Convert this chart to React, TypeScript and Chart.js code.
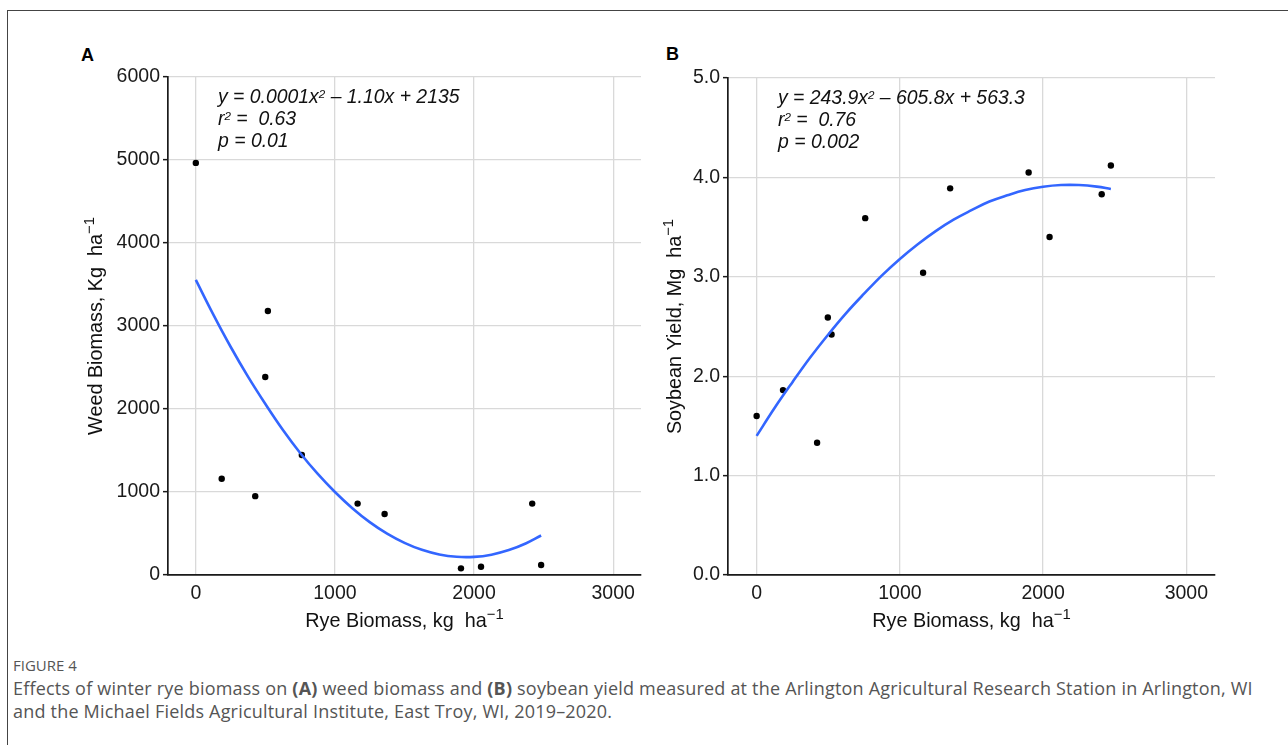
import React, { useEffect, useRef } from "react";
import { Chart, registerables } from "chart.js";

Chart.register(...registerables);

// ---------- data ----------
const xTickValues = [0, 1000, 2000, 3000];
const yTicksA = [0, 1000, 2000, 3000, 4000, 5000, 6000];
const yTicksB = [0, 1, 2, 3, 4, 5];

// Panel A: weed biomass vs rye biomass
const ryeA = [0, 186, 427, 499, 518, 762, 1163, 1357, 1906, 2050, 2418, 2482];
const weedBiomass = [4965, 1160, 950, 2385, 3180, 1445, 860, 735, 80, 100, 860, 120];
// fitted curve
const fitAx = [0, 125, 250, 375, 500, 625, 750, 875, 1000, 1125, 1250, 1375, 1500, 1625, 1750, 1875, 2000, 2125, 2250, 2375, 2482];
const fitAy = [3555, 3140, 2750, 2390, 2060, 1750, 1470, 1220, 1000, 805, 637, 498, 387, 303, 247, 219, 218, 245, 300, 383, 476];

// Panel B: soybean yield vs rye biomass
const ryeB = [0, 184, 422, 497, 523, 758, 1162, 1351, 1899, 2045, 2409, 2473];
const soyYield = [1.6, 1.86, 1.33, 2.59, 2.42, 3.59, 3.04, 3.89, 4.05, 3.4, 3.83, 4.12];
const fitBx = [0, 125, 250, 375, 500, 625, 750, 875, 1000, 1125, 1250, 1375, 1500, 1625, 1750, 1875, 2000, 2125, 2250, 2375, 2473];
const fitBy = [1.4, 1.68, 1.94, 2.19, 2.42, 2.635, 2.83, 3.015, 3.18, 3.328, 3.46, 3.575, 3.67, 3.757, 3.82, 3.873, 3.906, 3.923, 3.923, 3.907, 3.883];

// ---------- styles ----------
const FONT = '"Liberation Sans", Arial, Helvetica, sans-serif';
const GRID = "#d9d9d9";
const AXIS = "#1a1a1a";
const TICK = "#1a1a1a";
const BLUE = "#3366FF";

type Seg = { t: string; sup?: boolean };
type RichStyle = { size: number; italic?: boolean; supScale: number; supRaise: number; color: string };

const eqStyle: RichStyle = { size: 19.4, italic: true, supScale: 0.6, supRaise: 0.24, color: "#111" };
const titleStyle: RichStyle = { size: 19.8, italic: false, supScale: 0.75, supRaise: 0.4, color: "#111" };

function fontOf(size: number, italic?: boolean) {
  return `${italic ? "italic " : ""}${size}px ${FONT}`;
}

function richWidth(ctx: CanvasRenderingContext2D, segs: Seg[], st: RichStyle) {
  let w = 0;
  for (const s of segs) {
    ctx.font = fontOf(s.sup ? st.size * st.supScale : st.size, st.italic);
    w += ctx.measureText(s.t).width;
  }
  return w;
}

function drawRich(
  ctx: CanvasRenderingContext2D,
  segs: Seg[],
  x: number,
  y: number,
  st: RichStyle,
  align: "left" | "center"
) {
  let cx = align === "center" ? x - richWidth(ctx, segs, st) / 2 : x;
  ctx.fillStyle = st.color;
  ctx.textBaseline = "alphabetic";
  ctx.textAlign = "left";
  for (const s of segs) {
    const size = s.sup ? st.size * st.supScale : st.size;
    ctx.font = fontOf(size, st.italic);
    ctx.fillText(s.t, cx, s.sup ? y - st.size * st.supRaise : y);
    cx += ctx.measureText(s.t).width;
  }
}

const textPlugin = {
  id: "panelText",
  afterDraw(chart: any, _args: any, opts: any) {
    const ctx: CanvasRenderingContext2D = chart.ctx;
    const a = chart.chartArea;
    ctx.save();
    (opts.eq as Seg[][]).forEach((line, i) =>
      drawRich(ctx, line, a.left + opts.eqDx, a.top + opts.eqDy + i * opts.eqGap, eqStyle, "left")
    );
    drawRich(ctx, opts.xTitle, (a.left + a.right) / 2, a.bottom + opts.xTitleDy, titleStyle, "center");
    ctx.translate(a.left - opts.yTitleDx, (a.top + a.bottom) / 2);
    ctx.rotate(-Math.PI / 2);
    drawRich(ctx, opts.yTitle, 0, 0, titleStyle, "center");
    ctx.restore();
  },
};

type PanelProps = {
  left: number;
  top: number;
  width: number;
  height: number;
  padTop: number;
  padRight: number;
  yAxisWidth: number;
  xAxisHeight: number;
  xs: number[];
  ys: number[];
  fitX: number[];
  fitY: number[];
  yTicks: number[];
  yFmt: (v: number) => string;
  eq: Seg[][];
  yTitle: Seg[];
  yTitleDx: number;
};

function Panel(p: PanelProps) {
  const ref = useRef<HTMLCanvasElement | null>(null);
  useEffect(() => {
    if (!ref.current) return;
    const tickFont = { family: FONT, size: 19.5 };
    const chart = new Chart(ref.current, {
      type: "scatter",
      data: {
        datasets: [
          {
            data: p.fitX.map((x, i) => ({ x, y: p.fitY[i] })),
            showLine: true,
            borderColor: BLUE,
            borderWidth: 2.6,
            pointRadius: 0,
            pointHoverRadius: 0,
            tension: 0.4,
            fill: false,
          } as any,
          {
            data: p.xs.map((x, i) => ({ x, y: p.ys[i] })),
            pointRadius: 3.2,
            pointHoverRadius: 3.2,
            backgroundColor: "#000",
            borderWidth: 0,
          },
        ],
      },
      options: {
        animation: false,
        responsive: false,
        maintainAspectRatio: false,
        events: [],
        layout: { padding: { left: 0, right: p.padRight, top: p.padTop, bottom: 0 } },
        plugins: {
          legend: { display: false },
          tooltip: { enabled: false },
          panelText: {
            eq: p.eq,
            eqDx: 50,
            eqDy: 26,
            eqGap: 22,
            xTitle: [{ t: "Rye Biomass, kg  ha" }, { t: "\u22121", sup: true }],
            xTitleDy: 52,
            yTitle: p.yTitle,
            yTitleDx: p.yTitleDx,
          },
        } as any,
        scales: {
          x: {
            type: "linear",
            min: -200,
            max: 3200,
            offset: false,
            afterBuildTicks: (ax: any) => {
              ax.ticks = xTickValues.map((v) => ({ value: v }));
            },
            afterFit: (s: any) => {
              s.height = p.xAxisHeight;
            },
            grid: { color: GRID, lineWidth: 1.3, drawTicks: false },
            border: { display: true, color: AXIS, width: 1.7 },
            ticks: {
              font: tickFont,
              color: TICK,
              padding: 7,
              maxRotation: 0,
              autoSkip: false,
              callback: (v: any) => String(v),
            },
          },
          y: {
            type: "linear",
            min: p.yTicks[0],
            max: p.yTicks[p.yTicks.length - 1],
            afterBuildTicks: (ax: any) => {
              ax.ticks = p.yTicks.map((v) => ({ value: v }));
            },
            afterFit: (s: any) => {
              s.width = p.yAxisWidth;
            },
            grid: {
              color: GRID,
              lineWidth: 1.3,
              drawTicks: true,
              tickLength: 5,
              tickColor: AXIS,
              tickWidth: 1.5,
            },
            border: { display: true, color: AXIS, width: 1.7 },
            ticks: {
              font: tickFont,
              color: TICK,
              padding: 3,
              autoSkip: false,
              callback: (v: any) => p.yFmt(Number(v)),
            },
          },
        },
      },
      plugins: [textPlugin as any],
    });
    return () => chart.destroy();
  }, []);
  return (
    <canvas
      ref={ref}
      width={p.width}
      height={p.height}
      style={{ position: "absolute", left: p.left, top: p.top, width: p.width, height: p.height }}
    />
  );
}

const eqA: Seg[][] = [
  [{ t: "y = 0.0001x" }, { t: "2", sup: true }, { t: " \u2013 1.10x + 2135" }],
  [{ t: "r" }, { t: "2", sup: true }, { t: " =  0.63" }],
  [{ t: "p = 0.01" }],
];
const eqB: Seg[][] = [
  [{ t: "y = 243.9x" }, { t: "2", sup: true }, { t: " \u2013 605.8x + 563.3" }],
  [{ t: "r" }, { t: "2", sup: true }, { t: " =  0.76" }],
  [{ t: "p = 0.002" }],
];

export default function App() {
  const letter: React.CSSProperties = {
    position: "absolute",
    fontFamily: FONT,
    fontWeight: "bold",
    fontSize: 18,
    lineHeight: "18px",
    color: "#000",
  };
  return (
    <div
      style={{
        position: "absolute",
        left: 0,
        top: 0,
        width: 1288,
        height: 745,
        overflow: "hidden",
        background: "#fff",
      }}
    >
      <div
        style={{
          position: "absolute",
          left: 7,
          top: 10,
          width: 1290,
          height: 745,
          borderTop: "1.5px solid #444",
          borderLeft: "1.5px solid #444",
        }}
      />
      <div style={{ ...letter, left: 81, top: 46 }}>A</div>
      <div style={{ ...letter, left: 666, top: 45 }}>B</div>
      <Panel
        left={0}
        top={0}
        width={650}
        height={645}
        padTop={77}
        padRight={9}
        yAxisWidth={168}
        xAxisHeight={70}
        xs={ryeA}
        ys={weedBiomass}
        fitX={fitAx}
        fitY={fitAy}
        yTicks={yTicksA}
        yFmt={(v) => String(v)}
        eq={eqA}
        yTitle={[{ t: "Weed Biomass, Kg  ha" }, { t: "\u22121", sup: true }]}
        yTitleDx={66}
      />
      <Panel
        left={650}
        top={0}
        width={638}
        height={645}
        padTop={78}
        padRight={73}
        yAxisWidth={78}
        xAxisHeight={70}
        xs={ryeB}
        ys={soyYield}
        fitX={fitBx}
        fitY={fitBy}
        yTicks={yTicksB}
        yFmt={(v) => v.toFixed(1)}
        eq={eqB}
        yTitle={[{ t: "Soybean Yield, Mg  ha" }, { t: "\u22121", sup: true }]}
        yTitleDx={47}
      />
      <div
        style={{
          position: "absolute",
          left: 13,
          top: 655,
          fontFamily: '"Open Sans", "Noto Sans", sans-serif',
          color: "#555",
        }}
      >
        <div style={{ fontSize: 15, lineHeight: "20px" }}>FIGURE 4</div>
        <div
          style={{
            fontSize: 18,
            letterSpacing: "0.2px",
            lineHeight: "23px",
            whiteSpace: "nowrap",
            marginTop: 2,
          }}
        >
          Effects of winter rye biomass on <b>(A)</b> weed biomass and <b>(B)</b> soybean yield measured at the
          Arlington Agricultural Research Station in Arlington, WI
          <br />
          and the Michael Fields Agricultural Institute, East Troy, WI, 2019–2020.
        </div>
      </div>
    </div>
  );
}
